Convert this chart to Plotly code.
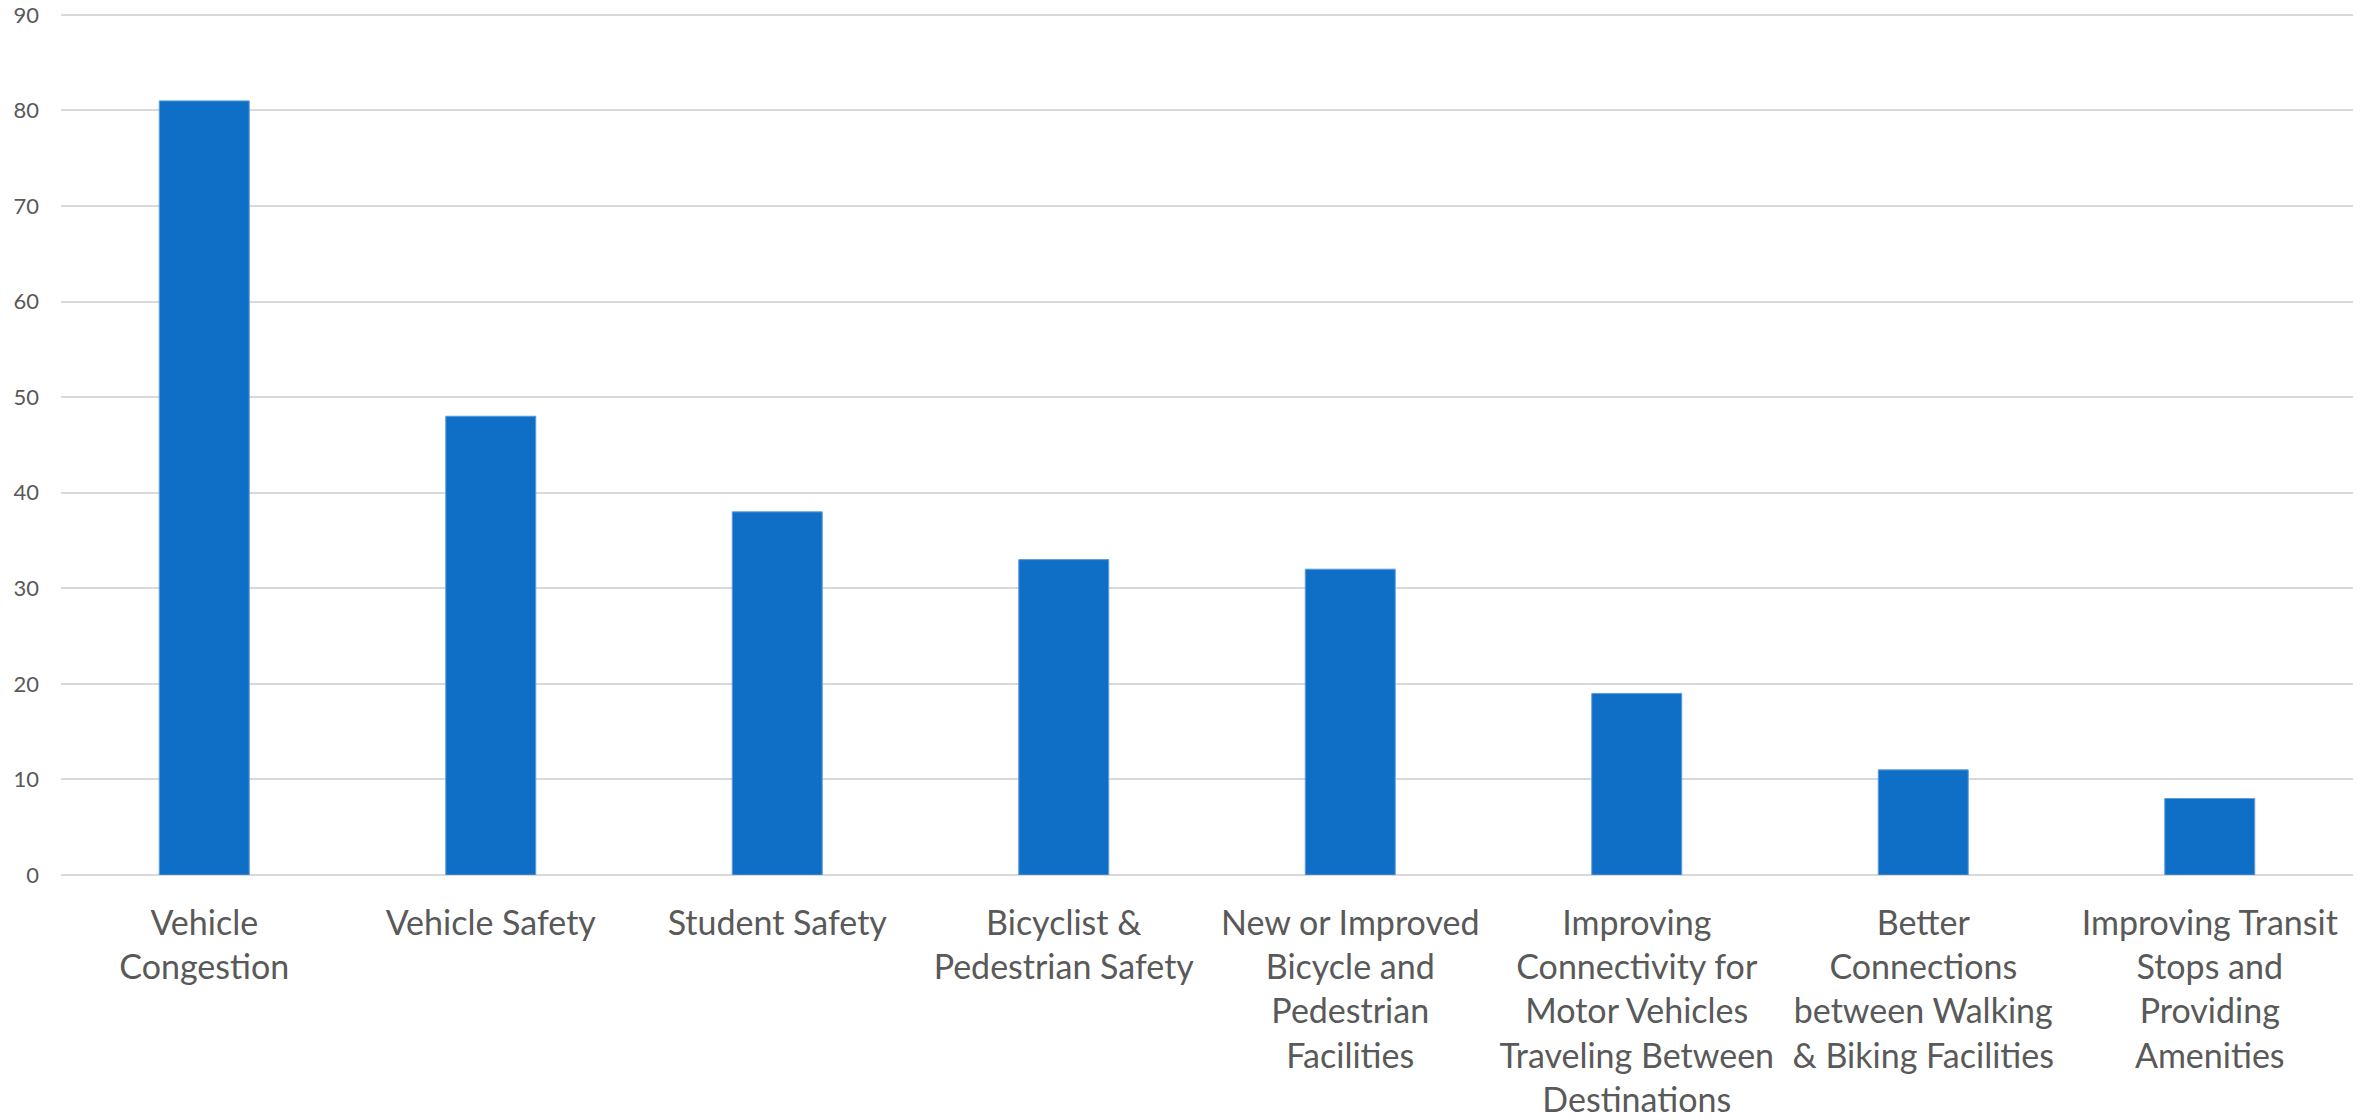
import plotly.graph_objects as go

categories = [
    "Vehicle<br>Congestion",
    "Vehicle Safety",
    "Student Safety",
    "Bicyclist &<br>Pedestrian Safety",
    "New or Improved<br>Bicycle and<br>Pedestrian<br>Facilities",
    "Improving<br>Connectivity for<br>Motor Vehicles<br>Traveling Between<br>Destinations",
    "Better<br>Connections<br>between Walking<br>& Biking Facilities",
    "Improving Transit<br>Stops and<br>Providing<br>Amenities",
]
values = [81, 48, 38, 33, 32, 19, 11, 8]
y_ticks = [0, 10, 20, 30, 40, 50, 60, 70, 80, 90]

fig = go.Figure(go.Bar(
    x=categories, y=values,
    marker=dict(color="#0F6FC6", line=dict(color="#5B9BE0", width=1)),
))
fig.update_layout(
    width=2374, height=1120,
    margin=dict(l=61, r=21, t=12, b=245, autoexpand=False),
    paper_bgcolor="white", plot_bgcolor="white",
    bargap=0.686,
    showlegend=False,
    font=dict(family="Lato, Open Sans, sans-serif", color="#595959"),
)
fig.update_xaxes(
    tickfont=dict(size=34, color="#595959"),
    showgrid=False, showline=False, ticks="",
    ticklabelstandoff=25, automargin=False,
)
fig.update_yaxes(
    range=[0, 90.3], tickvals=y_ticks,
    tickfont=dict(size=22, color="#595959"),
    showgrid=True, gridcolor="#D9D9D9", gridwidth=2,
    zeroline=True, zerolinecolor="#D9D9D9", zerolinewidth=2,
    showline=False, ticks="", ticklabelstandoff=21, automargin=False,
)
fig.write_html(
    "out.html",
    config={"displayModeBar": False},
    post_script="document.body.style.margin='0';document.body.style.overflow='hidden';",
)
